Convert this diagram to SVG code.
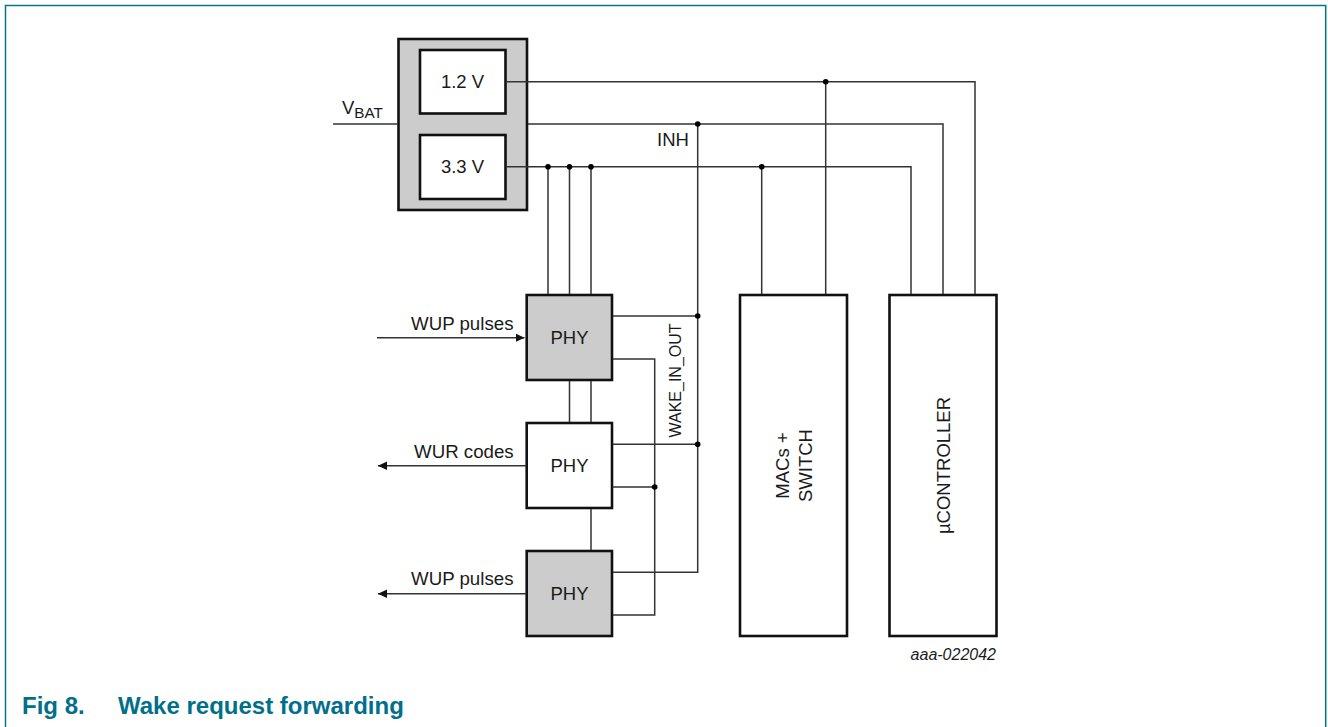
<svg xmlns="http://www.w3.org/2000/svg" width="1328" height="727" viewBox="0 0 1328 727">
<defs>
<marker id="arrow" markerUnits="userSpaceOnUse" markerWidth="10" markerHeight="10" refX="9" refY="5" orient="auto"><path d="M0 0.7L9 5L0 9.3z" fill="#111"/></marker>
</defs>
<style>
text{font-family:"Liberation Sans",Arial,sans-serif;fill:#1a1a1a;font-size:18.5px}
.box{stroke:#111;stroke-width:2.6}
.g{fill:#ccc}.w{fill:#fff}
.c path{fill:none;stroke:#333;stroke-width:1.5}
.c circle{fill:#000}
.m{text-anchor:middle}
.cap{font-weight:bold;font-size:24px;fill:#00708a}
</style>
<rect width="1328" height="727" fill="#fff"/>
<path d="M5.5 727V5.5H1325.7V727" fill="none" stroke="#00788a" stroke-width="1.5"/>
<g id="regulator">
<rect class="box g" x="398.5" y="39" width="128.5" height="171"/>
<rect class="box w" x="420" y="50" width="85.5" height="63.5"/>
<rect class="box w" x="420" y="135" width="85.5" height="64"/>
<text class="m" x="462.5" y="88">1.2 V</text>
<text class="m" x="462.5" y="172.5">3.3 V</text>
</g>
<g id="phy1"><rect class="box g" x="526.7" y="295" width="85.3" height="85"/><text class="m" x="569.5" y="344">PHY</text></g>
<g id="phy2"><rect class="box w" x="526.7" y="423" width="85.3" height="85"/><text class="m" x="569.5" y="472">PHY</text></g>
<g id="phy3"><rect class="box g" x="526.7" y="551" width="85.3" height="85"/><text class="m" x="569.5" y="600">PHY</text></g>
<g id="macs"><rect class="box w" x="740" y="295" width="107" height="341"/>
<text class="m" transform="translate(789.3 465.5) rotate(-90)">MACs +</text>
<text class="m" transform="translate(811.7 465.5) rotate(-90)">SWITCH</text></g>
<g id="controller"><rect class="box w" x="889.5" y="295" width="107" height="341"/>
<text class="m" transform="translate(950 465.5) rotate(-90)">µCONTROLLER</text></g>
<g id="connectors" class="c">
<path d="M333 124H398"/>
<path d="M506.5 81.7H975V294"/>
<path d="M528 124H943V294"/>
<path d="M506.5 166.7H911V294"/>
<path d="M548 166.7V294M569.5 166.7V294M591 166.7V294"/>
<path d="M761.7 166.7V294M825.7 81.7V294"/>
<path d="M697.7 124V572.3H613M613 316H697.7M613 444.3H697.7"/>
<path d="M613 359H654.7V615H613M613 487H654.7"/>
<path d="M569.5 381V422M591 381V422M591 509V550"/>
<path d="M377 337.7H524.5" marker-end="url(#arrow)"/>
<path d="M526 465.7H378" marker-end="url(#arrow)"/>
<path d="M526 593.7H378" marker-end="url(#arrow)"/>
<circle cx="548" cy="166.7" r="2.8"/><circle cx="569.5" cy="166.7" r="2.8"/><circle cx="591" cy="166.7" r="2.8"/>
<circle cx="761.7" cy="166.7" r="2.8"/><circle cx="825.7" cy="81.7" r="2.8"/><circle cx="697.7" cy="124" r="2.8"/>
<circle cx="697.7" cy="316" r="2.8"/><circle cx="697.7" cy="444.3" r="2.8"/><circle cx="654.7" cy="487" r="2.8"/>
</g>
<g id="labels">
<text x="342" y="113.5">V<tspan font-size="15.3" dy="4">BAT</tspan></text>
<text x="657" y="146">INH</text>
<text x="411" y="330" style="font-size:18.7px">WUP pulses</text>
<text x="414" y="457.5" style="font-size:18.7px">WUR codes</text>
<text x="411" y="585" style="font-size:18.7px">WUP pulses</text>
<text transform="translate(680.7 437.5) rotate(-90)" style="font-size:16px">WAKE_IN_OUT</text>
<text x="996" y="660" text-anchor="end" font-style="italic" style="font-size:16px">aaa-022042</text>
</g>
<g id="caption">
<text class="cap" x="22" y="714">Fig 8.</text>
<text class="cap" x="118" y="714">Wake request forwarding</text>
</g>
</svg>
